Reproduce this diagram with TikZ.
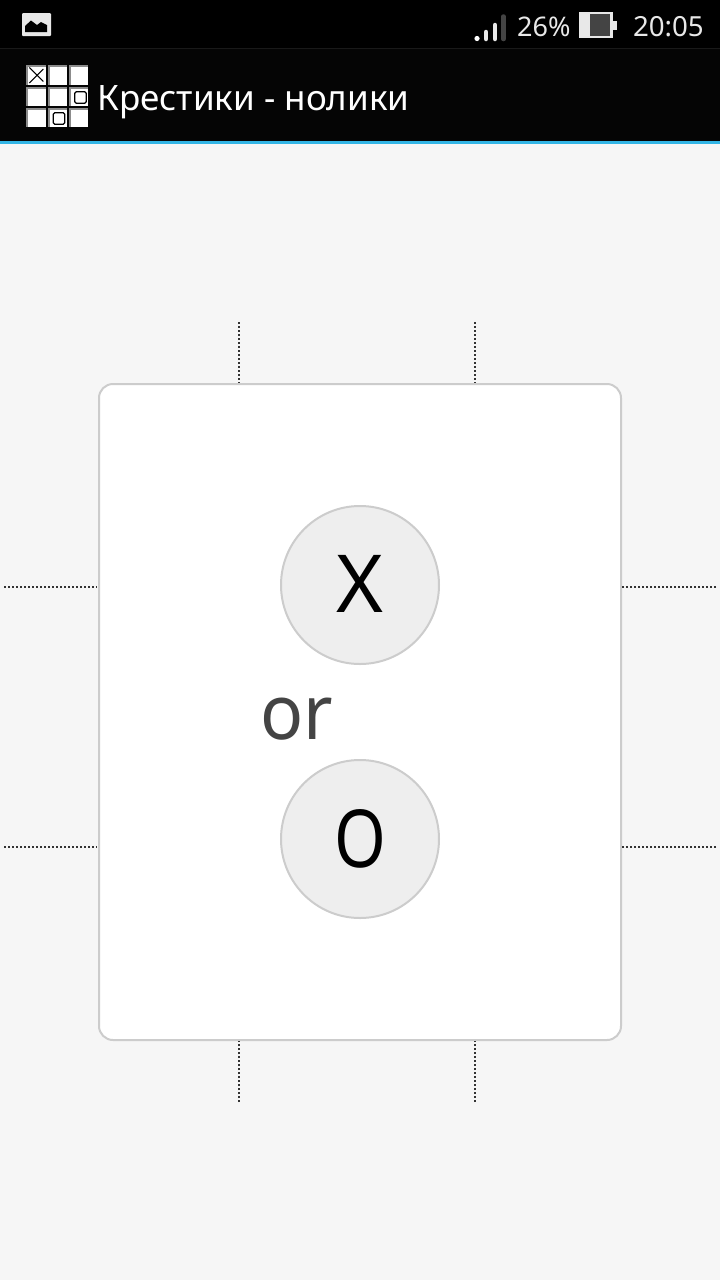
\documentclass[tikz,border=0pt]{standalone}
\usepackage{fontspec}
\setmainfont{Noto Sans}
\definecolor{pagebg}{HTML}{F6F6F6}
\definecolor{edgegray}{HTML}{CCCCCC}
\definecolor{btnfill}{HTML}{EEEEEE}
\definecolor{holoblue}{HTML}{33B5E5}
\definecolor{bargray}{HTML}{E8E8E8}
\definecolor{orgray}{HTML}{444444}
\tikzset{
	cardbox/.style={draw=edgegray, line width=2pt, fill=white, rounded corners=14pt, minimum width=522pt, minimum height=656pt, inner sep=0pt},
	choicebtn/.style={circle, draw=edgegray, line width=2pt, fill=btnfill, minimum size=158pt, inner sep=0pt},
	tickline/.style={black!80, line width=1.3pt, dash pattern=on 2pt off 2pt},
	gridcell/.style={fill=black!45, minimum size=19.5pt, inner sep=0pt},
	gridmark/.style={draw=black, line width=1.2pt, fill=white, rounded corners=1.5pt, minimum size=11.5pt, inner sep=0pt},
	barlabel/.style={text=bargray, font=\fontsize{27}{27}\selectfont, inner sep=0pt},
	sigbar/.style={line width=4.5pt, line cap=round},
	biglabel/.style={font=\fontsize{80}{80}\selectfont, anchor=base, inner sep=0pt}
}
\begin{document}
\begin{tikzpicture}[x=1pt, y=-1pt]
	\useasboundingbox (0,0) rectangle (720,1280);
	\fill [pagebg] (0,0) rectangle (720,1280);
	\fill [black] (0,0) rectangle (720,141);
	\fill [black!90] (0,48) rectangle (720,49);
	\fill [black!98] (0,49) rectangle (720,141);
	\fill [holoblue] (0,141) rectangle (720,144);
	% status bar
	\fill [bargray, rounded corners=1pt] (22,13) rectangle (51,36);
	\fill [black] (25,32) -- (25,26) -- (31,20.5) -- (37,25) -- (41,22) -- (47,25) -- (47,32) -- cycle;
	\fill [white] (477,38.5) circle (2.6pt);
	\draw [sigbar, bargray] (486,32) -- (486,39);
	\draw [sigbar, bargray] (495,25) -- (495,39);
	\draw [sigbar, orgray] (503.5,16.5) -- (503.5,39);
	\node [barlabel, anchor=base west] (levellabel) at (517,36) {26\%};
	\fill [bargray] (579,12) rectangle (612.5,38);
	\fill [orgray] (590,14) rectangle (609.5,36);
	\fill [bargray] (612,21) rectangle (617,30);
	\node [barlabel, anchor=base east, font=\fontsize{27.7}{27.7}\selectfont] (timelabel) at (704,36) {20:05};
	% app icon
	\foreach \col/\cx in {0/35.8,1/57.5,2/78.5}
		\foreach \row/\cy in {0/75,1/96.5,2/117.5} {
			\node [gridcell] (cell\col\row) at (\cx,\cy) {};
			\fill [white] (cell\col\row.north west) ++(2,2) rectangle (cell\col\row.south east);
		}
	\draw [black, line width=1.1pt] (cell00.south west) ++(3.5,-2) -- ++(14,-14);
	\draw [black, line width=1.1pt] (cell00.north west) ++(3.5,2.5) -- ++(14,14);
	\node [gridmark] (markright) at (80.5,97.5) {};
	\node [gridmark] (markbottom) at (59,118.5) {};
	\node [text=white, anchor=base west, inner sep=0pt, font=\fontsize{35}{35}\selectfont] (titlelabel) at (97,110) {Крестики - нолики};
	% board
	\node [cardbox] (card) at (360,712) {};
	\node [choicebtn] (btnx) at (360,585) {};
	\node [choicebtn] (btno) at (360,839) {};
	\node [biglabel] (xlabel) at (btnx.center |- 0,612.5) {X};
	\node [biglabel] (olabel) at (btno.center |- 0,867) {\scalebox{.83}[1]{O}};
	\node [text=orgray, font=\fontsize{76}{76}\selectfont, anchor=base west, inner sep=0pt] (orlabel) at (260,739) {\scalebox{.94}[1]{or}};
	% dotted lines
	\coordinate (topa) at (239,322);
	\coordinate (topb) at (475,322);
	\coordinate (bota) at (239,1102);
	\coordinate (botb) at (475,1102);
	\coordinate (lefta) at (4,587);
	\coordinate (leftb) at (4,847);
	\coordinate (righta) at (716,587);
	\coordinate (rightb) at (716,847);
	\draw [tickline] (topa) -- (topa |- card.north);
	\draw [tickline] (topb) -- (topb |- card.north);
	\draw [tickline] (bota) -- (bota |- card.south);
	\draw [tickline] (botb) -- (botb |- card.south);
	\draw [tickline, shorten >=1pt] (lefta) -- (lefta -| card.west);
	\draw [tickline, shorten >=1pt] (leftb) -- (leftb -| card.west);
	\draw [tickline] (righta) -- (righta -| card.east);
	\draw [tickline] (rightb) -- (rightb -| card.east);
\end{tikzpicture}
\end{document}
